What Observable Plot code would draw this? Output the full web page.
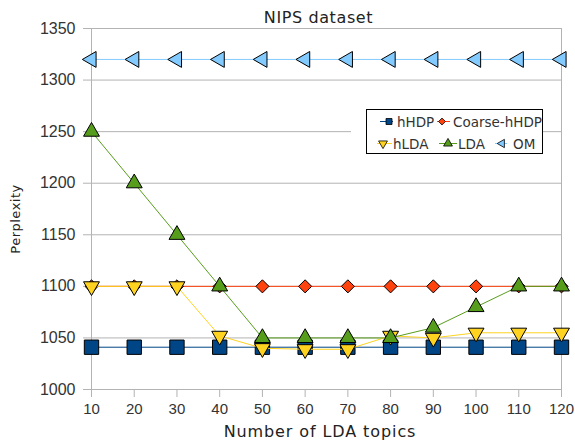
<!DOCTYPE html>
<html>
<head>
<meta charset="utf-8">
<script src="https://cdn.jsdelivr.net/npm/d3@7"></script>
<script src="https://cdn.jsdelivr.net/npm/@observablehq/plot@0.6"></script>
<style>
  body { margin: 0; background: #fff; }
  #wrap { position: relative; width: 575px; height: 441px; }
  #legend { position: absolute; left: 366px; top: 109px; box-shadow: -15px 0 0 0 #fff; background: #fff; }
  #legend svg { display: block; }
</style>
</head>
<body>
<div id="wrap"></div>
<script>
const topics = [10, 20, 30, 40, 50, 60, 70, 80, 90, 100, 110, 120];
const hHDP = [1041, 1041, 1041, 1041, 1041, 1041, 1041, 1041, 1041, 1041, 1041, 1041];
const coarseHHDP = [1100, 1100, 1100, 1100, 1100, 1100, 1100, 1100, 1100, 1100, 1100, 1100];
const hLDA = [1100, 1100, 1100, 1052, 1040, 1039, 1039, 1052, 1050, 1055, 1055, 1055];
const LDA = [1250, 1200, 1150, 1100, 1050, 1050, 1050, 1050, 1060, 1080, 1100, 1100];
const OM = [1320, 1320, 1320, 1320, 1320, 1320, 1320, 1320, 1320, 1320, 1320, 1320];
const seriesNames = ["hHDP", "Coarse-hHDP", "hLDA", "LDA", "OM"];
const yTicks = [1000, 1050, 1100, 1150, 1200, 1250, 1300, 1350];
const title = "NIPS dataset";
const xLabel = "Number of LDA topics";
const yLabel = "Perplexity";

const seriesValues = [hHDP, coarseHHDP, hLDA, LDA, OM];
const colors = ["#004586", "#ff420e", "#ffd320", "#579d1c", "#83caff"];
const symbols = ["square", "diamond2", "triangle", "triangle", "triangle"];
const rotations = [0, 0, 180, 0, -90];
const radii = [8.1, 5.9, 5.9, 5.9, 5.9];

const series = seriesNames.map((name, i) => ({
  name, color: colors[i], symbol: symbols[i], rotate: rotations[i], r: radii[i],
  rows: topics.map((t, j) => ({topic: t, value: seriesValues[i][j]}))
}));

const marks = [
  Plot.ruleY(yTicks, {stroke: "#b3b3b3", strokeWidth: 1}),
  Plot.frame({stroke: "#b3b3b3"}),
  Plot.axisX({ticks: topics, tickSize: 8, tickPadding: 6, stroke: "#b3b3b3", fill: "#333",
    label: null, fontSize: 15, tickFormat: "d"}),
  Plot.axisY({ticks: yTicks, tickSize: 8, tickPadding: 8, stroke: "#b3b3b3", fill: "#333",
    label: null, fontSize: 16, tickFormat: "d"}),
  Plot.text([title], {frameAnchor: "top", lineAnchor: "bottom", dy: -6, dx: -8,
    fontSize: 16, fill: "#222", fontFamily: "DejaVu Sans"}),
];
for (const s of series) {
  marks.push(Plot.line(s.rows, {x: "topic", y: "value", stroke: s.color, strokeWidth: 1}));
  marks.push(Plot.dot(s.rows, {x: "topic", y: "value", symbol: () => s.symbol, fill: s.color,
    stroke: "#000", strokeWidth: 1, r: s.r, rotate: s.rotate}));
}

const chart = Plot.plot({
  width: 575, height: 441,
  marginLeft: 91, marginRight: 14, marginTop: 28, marginBottom: 52,
  style: {fontFamily: "Liberation Sans", fontSize: "15px", background: "#fff"},
  x: {domain: [10, 120]},
  y: {domain: [1000, 1350]},
  symbol: {type: "identity"},
  marks
});
const wrap = document.getElementById("wrap");
wrap.appendChild(chart);
const NS = "http://www.w3.org/2000/svg";

// title letter spacing
chart.querySelectorAll("text").forEach(t => {
  if (t.textContent === title) t.setAttribute("letter-spacing", "0.6");
});

function addText(parent, str, attrs) {
  const el = document.createElementNS(NS, "text");
  for (const k in attrs) el.setAttribute(k, attrs[k]);
  el.textContent = str;
  parent.appendChild(el);
  return el;
}
addText(chart, yLabel, {transform: "translate(20,219) rotate(-90)", "text-anchor": "middle",
  "font-family": "DejaVu Sans", "font-size": 13, "letter-spacing": 0.5, fill: "#222"});
addText(chart, xLabel, {x: 320, y: 436.5, "text-anchor": "middle",
  "font-family": "DejaVu Sans", "font-size": 16, "letter-spacing": 0.9, fill: "#222"});

// legend
const legendItems = [
  {i: 0, l1: 14, l2: 27, m: 23, t: 31, y: 12},
  {i: 1, l1: 71, l2: 84, m: 76, t: 87, y: 12},
  {i: 2, l1: 11, l2: 26, m: 17, t: 27, y: 34},
  {i: 3, l1: 73, l2: 91, m: 82, t: 92, y: 34},
  {i: 4, l1: 129, l2: 141, m: 136, t: 147, y: 34},
];
const symTypes = {square: d3.symbolSquare, diamond2: d3.symbolDiamond2, triangle: d3.symbolTriangle};
const legendSizes = [36, 30, 34, 34, 30];
const legend = document.createElement("div");
legend.id = "legend";
const lsvg = document.createElementNS(NS, "svg");
lsvg.setAttribute("width", 177);
lsvg.setAttribute("height", 45);
lsvg.innerHTML = `<defs><clipPath id="lclip"><rect x="0" y="0" width="176" height="44"/></clipPath></defs>`;
const g = document.createElementNS(NS, "g");
g.setAttribute("clip-path", "url(#lclip)");
lsvg.appendChild(g);
for (const it of legendItems) {
  const s = series[it.i];
  const line = document.createElementNS(NS, "line");
  line.setAttribute("x1", it.l1); line.setAttribute("x2", it.l2);
  line.setAttribute("y1", it.y + 0.5); line.setAttribute("y2", it.y + 0.5);
  line.setAttribute("stroke", s.color);
  g.appendChild(line);
  const p = document.createElementNS(NS, "path");
  p.setAttribute("d", d3.symbol().type(symTypes[s.symbol]).size(legendSizes[it.i])());
  p.setAttribute("transform", `translate(${it.m},${it.y + 0.5}) rotate(${s.rotate})`);
  p.setAttribute("fill", s.color);
  p.setAttribute("stroke", "#000");
  p.setAttribute("stroke-width", 0.8);
  g.appendChild(p);
  addText(g, s.name, {x: it.t, y: it.y + 5.5, "font-family": "DejaVu Sans", "font-size": 13.5,
    fill: "#333"});
}
const border = document.createElementNS(NS, "rect");
border.setAttribute("x", 0.5); border.setAttribute("y", 0.5);
border.setAttribute("width", 176); border.setAttribute("height", 44);
border.setAttribute("fill", "none"); border.setAttribute("stroke", "#000");
lsvg.appendChild(border);
legend.appendChild(lsvg);
wrap.appendChild(legend);
</script>
</body>
</html>
